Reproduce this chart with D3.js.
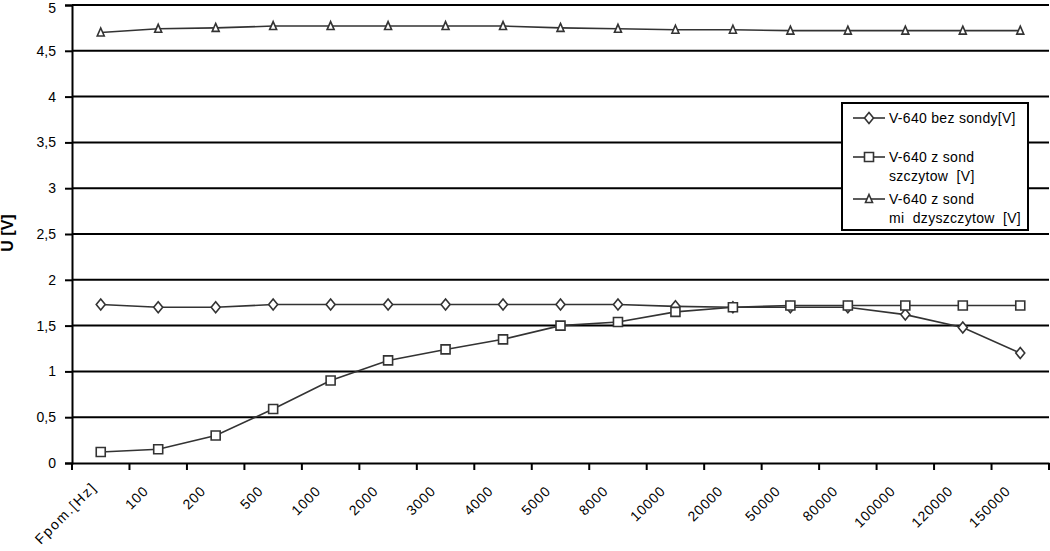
<!DOCTYPE html>
<html>
<head>
<meta charset="utf-8">
<script src="https://cdn.jsdelivr.net/npm/d3@7"></script>
<style>
  html, body { margin: 0; padding: 0; background: #fff; }
  svg { display: block; font-family: "Liberation Sans", Arial, sans-serif; }
</style>
</head>
<body>
<svg id="chart" width="1050" height="551"></svg>
<script>
const categories = ["Fpom.[Hz]", "100", "200", "500", "1000", "2000", "3000", "4000", "5000", "8000", "10000", "20000", "50000", "80000", "100000", "120000", "150000"];
const bezSondy = [1.73, 1.70, 1.70, 1.73, 1.73, 1.73, 1.73, 1.73, 1.73, 1.73, 1.71, 1.70, 1.70, 1.70, 1.62, 1.48, 1.20];
const zSondSzczytow = [0.12, 0.15, 0.30, 0.59, 0.90, 1.12, 1.24, 1.35, 1.50, 1.54, 1.65, 1.70, 1.72, 1.72, 1.72, 1.72, 1.72];
const zSondDzyszczytow = [4.70, 4.74, 4.75, 4.77, 4.77, 4.77, 4.77, 4.77, 4.75, 4.74, 4.73, 4.73, 4.72, 4.72, 4.72, 4.72, 4.72];
const yTicks = [0, 0.5, 1, 1.5, 2, 2.5, 3, 3.5, 4, 4.5, 5];
const seriesNames = [["V-640 bez sondy[V]"], ["V-640 z sond", "szczytow  [V]"], ["V-640 z sond", "mi  dzyszczytow  [V]"]];
const yTitle = "U [V]";

(function () {
const svg = d3.select("#chart");
const mLeft = 72, mRight = 1049, mTop = 5, mBottom = 463;
const lineColor = "#333";

const x = d3.scaleBand().domain(categories).range([mLeft, mRight]).padding(0);
const y = d3.scaleLinear().domain([0, 5]).range([mBottom, mTop]);
const fmt = v => String(v).replace(".", ",");

// gridlines
svg.append("g").selectAll("line").data(yTicks.filter(d => d > 0)).join("line")
  .attr("x1", mLeft).attr("x2", mRight)
  .attr("y1", d => y(d)).attr("y2", d => y(d))
  .attr("stroke", "#000").attr("stroke-width", 2);

// y axis
const yAxis = svg.append("g").attr("transform", `translate(${mLeft},0)`)
  .call(d3.axisLeft(y).tickValues(yTicks).tickFormat(fmt).tickSize(7).tickPadding(9));
yAxis.select(".domain").attr("stroke", "#000").attr("stroke-width", 2);
yAxis.selectAll(".tick line").attr("stroke", "#000").attr("stroke-width", 2);
yAxis.selectAll("text").attr("font-size", 14).attr("fill", "#000")
  .attr("font-family", "'Liberation Sans', Arial, sans-serif");
yAxis.selectAll(".tick").filter(d => d === 5).select("text").attr("dy", "0.5em");

// x axis
const xAxis = svg.append("g").attr("transform", `translate(0,${mBottom})`)
  .call(d3.axisBottom(x).tickSize(0).tickFormat(""));
xAxis.select(".domain").attr("stroke", "#000").attr("stroke-width", 2);
const bounds = categories.map(c => x(c)).concat([mRight]);
svg.append("g").selectAll("line").data(bounds).join("line")
  .attr("x1", d => d).attr("x2", d => d)
  .attr("y1", mBottom).attr("y2", mBottom + 7)
  .attr("stroke", "#000").attr("stroke-width", 2);

svg.append("g").selectAll("text").data(categories).join("text")
  .attr("transform", (d, i) => `translate(${x(d) + x.bandwidth() / 2 - (i === 0 ? 3 : 9)},${mBottom + (i === 0 ? 25 : 29)}) rotate(-45)`)
  .attr("text-anchor", "end")
  .attr("font-size", 14)
  .attr("letter-spacing", (d, i) => i === 0 ? 1.8 : 0.8)
  .attr("fill", "#000")
  .text(d => d);

// y title
svg.append("text")
  .attr("transform", `translate(13,233) rotate(-90)`)
  .attr("text-anchor", "middle")
  .attr("font-size", 16).attr("font-weight", "bold").attr("fill", "#000")
  .text(yTitle);

// markers
const markers = {
  diamond: "M0,-5.5L4.5,0L0,5.5L-4.5,0Z",
  square: "M-4.5,-4.5L4.5,-4.5L4.5,4.5L-4.5,4.5Z",
  triangle: "M0,-4.5L3.5,3.5L-3.5,3.5Z"
};
const series = [
  { values: bezSondy, marker: "diamond" },
  { values: zSondSzczytow, marker: "square" },
  { values: zSondDzyszczytow, marker: "triangle" }
];
const cx = c => x(c) + x.bandwidth() / 2;
const line = d3.line().x((d, i) => cx(categories[i])).y(d => y(d));

series.forEach(s => {
  svg.append("path").datum(s.values)
    .attr("d", line).attr("fill", "none")
    .attr("stroke", lineColor).attr("stroke-width", 1.6);
  svg.append("g").selectAll("path").data(s.values).join("path")
    .attr("transform", (d, i) => `translate(${cx(categories[i])},${y(d)})`)
    .attr("d", markers[s.marker])
    .attr("fill", "#fff").attr("stroke", lineColor).attr("stroke-width", 1.6);
});

// legend
const lg = svg.append("g");
lg.append("rect").attr("x", 842).attr("y", 103).attr("width", 186).attr("height", 127)
  .attr("fill", "#fff").attr("stroke", "#000").attr("stroke-width", 2);
const legendY = [118, 157, 199];
series.forEach((s, i) => {
  const ly = legendY[i];
  lg.append("line").attr("x1", 853).attr("x2", 885).attr("y1", ly).attr("y2", ly)
    .attr("stroke", lineColor).attr("stroke-width", 1.6);
  lg.append("path").attr("transform", `translate(869,${ly})`).attr("d", markers[s.marker])
    .attr("fill", "#fff").attr("stroke", lineColor).attr("stroke-width", 1.6);
  seriesNames[i].forEach((t, j) => {
    lg.append("text").attr("x", 889).attr("y", ly + 5 + j * 19)
      .attr("font-size", 14).attr("fill", "#000")
      .attr("letter-spacing", 0.3)
      .attr("xml:space", "preserve").style("white-space", "pre")
      .text(t);
  });
});
})();
</script>
</body>
</html>
